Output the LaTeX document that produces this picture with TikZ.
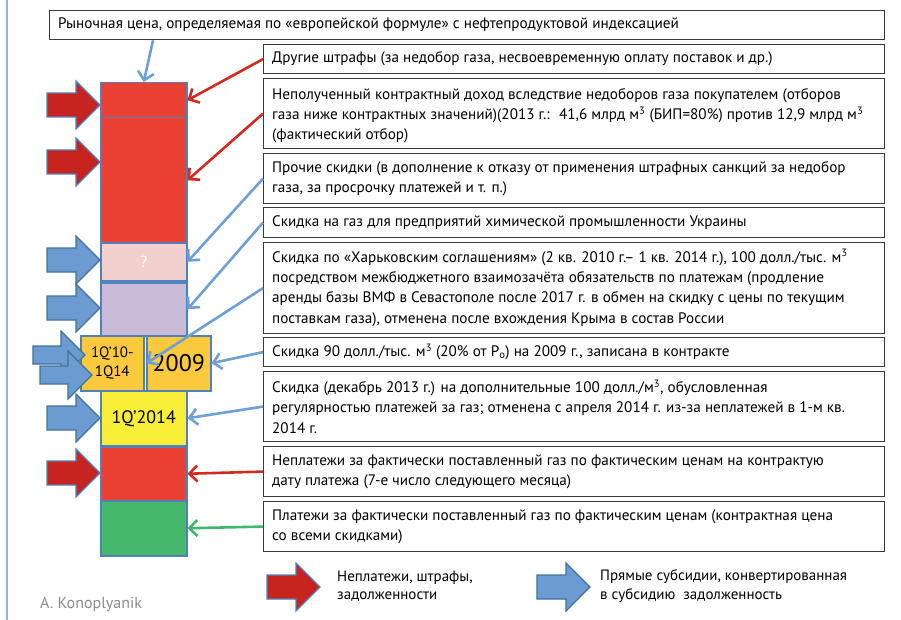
\documentclass[tikz,border=0pt]{standalone}
\usepackage{fontspec}
\setmainfont{PT Sans}
\usetikzlibrary{arrows.meta}
\definecolor{cellred}{HTML}{E94235}
\definecolor{arrred}{HTML}{C8241F}
\definecolor{cellpink}{HTML}{F2D0CE}
\definecolor{celllav}{HTML}{C9BAD7}
\definecolor{cellorange}{HTML}{FBC93D}
\definecolor{cellyellow}{HTML}{F8ED37}
\definecolor{cellgreen}{HTML}{45B86C}
\definecolor{arrblue}{HTML}{6C9BD2}
\definecolor{arredge}{HTML}{41719C}
\definecolor{celledge}{HTML}{4F81BD}
\definecolor{connblue}{HTML}{6E9FD5}
\definecolor{connred}{HTML}{D22A20}
\definecolor{conngreen}{HTML}{40B86A}
\definecolor{boxedge}{HTML}{3A3A3A}
\definecolor{framecol}{HTML}{8DB3E2}
\definecolor{authgray}{HTML}{8C8C8C}
\begin{document}
\begin{tikzpicture}[x=1pt,y=-1pt,
  txtbox/.style={draw=boxedge, line width=1.2pt, anchor=north west, inner sep=0pt, minimum width=621pt},
  boxtext/.style={anchor=west, align=left, inner sep=0pt, font=\fontsize{15.2}{20.4}\selectfont},
  cell/.style={draw=celledge, line width=1.5pt, anchor=north west, inner sep=0pt, minimum width=86pt},
  conn/.style={line width=2.6pt, -{Straight Barb[length=8pt,width=16pt]}},
  blockarr/.pic={\draw[pic actions] (0,0) -- (-24,-24) -- (-24,-12) -- (-53,-12) -- (-53,12) -- (-24,12) -- (-24,24) -- cycle;},
  thinarr/.pic={\draw[pic actions] (0,0) -- (-24,-24) -- (-24,-9) -- (-52,-9) -- (-52,9) -- (-24,9) -- (-24,24) -- cycle;},
  redblk/.style={fill=arrred, draw=celledge, line width=1.2pt},
  blueblk/.style={fill=arrblue, draw=arredge, line width=1.2pt}]
\useasboundingbox (0,0) rectangle (901,620);
\fill[white] (0,0) rectangle (901,620);
\draw[framecol, line width=1.3pt] (7,0) -- (7,620);

% text boxes
\node[txtbox, minimum width=835pt, minimum height=29pt] (b1) at (49,10) {};
\node[boxtext] (t1) at ([xshift=9pt]b1.west) {Рыночная цена, определяемая по «европейской формуле» с нефтепродуктовой индексацией};
\node[txtbox, minimum height=29pt] (b2) at (263,44) {};
\node[boxtext] (t2) at ([xshift=9pt]b2.west) {Другие штрафы (за недобор газа, несвоевременную оплату поставок и др.)};
\node[txtbox, minimum height=70pt] (b3) at (263,78) {};
\node[boxtext] (t3) at ([xshift=9pt,yshift=-2pt]b3.west) {Неполученный контрактный доход вследствие недоборов газа покупателем (отборов\\газа ниже контрактных значений)(2013 г.:~ 41,6 млрд м\textsuperscript{3} (БИП=80\%) против 12,9 млрд м\textsuperscript{3}\\(фактический отбор)};
\node[txtbox, minimum height=50pt] (b4) at (263,153) {};
\node[boxtext] (t4) at ([xshift=9pt]b4.west) {Прочие скидки (в дополнение к отказу от применения штрафных санкций за недобор\\газа, за просрочку платежей и т. п.)};
\node[txtbox, minimum height=30pt] (b5) at (263,207) {};
\node[boxtext] (t5) at ([xshift=9pt]b5.west) {Скидка на газ для предприятий химической промышленности Украины};
\node[txtbox, minimum height=91pt] (b6) at (263,242) {};
\node[boxtext] (t6) at ([xshift=9pt]b6.west) {Скидка по «Харьковским соглашениям» (2 кв. 2010 г.– 1 кв. 2014 г.), 100 долл./тыс. м\textsuperscript{3}\\посредством межбюджетного взаимозачёта обязательств по платежам (продление\\аренды базы ВМФ в Севастополе после 2017 г. в обмен на скидку с цены по текущим\\поставкам газа), отменена после вхождения Крыма в состав России};
\node[txtbox, minimum height=29pt] (b7) at (263,337) {};
\node[boxtext] (t7) at ([xshift=9pt]b7.west) {Скидка 90 долл./тыс. м\textsuperscript{3} (20\% от P\textsubscript{o}) на 2009 г., записана в контракте};
\node[txtbox, minimum height=70pt] (b8) at (263,371) {};
\node[boxtext] (t8) at ([xshift=9pt]b8.west) {Скидка (декабрь 2013 г.) на дополнительные 100 долл./м\textsuperscript{3}, обусловленная\\регулярностью платежей за газ; отменена с апреля 2014 г. из-за неплатежей в 1-м кв.\\2014 г.};
\node[txtbox, minimum height=50pt] (b9) at (263,446) {};
\node[boxtext] (t9) at ([xshift=9pt]b9.west) {Неплатежи за фактически поставленный газ по фактическим ценам на контрактую\\дату платежа (7-е число следующего месяца)};
\node[txtbox, minimum height=50pt] (b10) at (263,501) {};
\node[boxtext] (t10) at ([xshift=9pt]b10.west) {Платежи за фактически поставленный газ по фактическим ценам (контрактная цена\\со всеми скидками)};

% column cells
\node[cell, fill=cellred, minimum height=35pt] (c1) at (100,82) {};
\node[cell, fill=cellred, minimum height=125pt] (c2) at (100,117) {};
\node[cell, fill=cellpink, minimum height=38pt, text=white, font=\fontsize{16}{16}\selectfont] (c3) at (100,242) {?};
\node[cell, fill=celllav, minimum height=53pt] (c4) at (100,282) {};
\node[cell, fill=cellorange, minimum width=63pt, minimum height=55pt, align=center, font=\fontsize{15}{18.5}\selectfont] (c5l) at (80,335) {1Q’10-\\1Q14};
\node[cell, fill=cellorange, minimum width=64pt, minimum height=55pt, font=\fontsize{24}{24}\selectfont] (c5r) at (146,335) {2009};
\node[cell, fill=cellyellow, minimum height=55pt, font=\fontsize{18}{18}\selectfont] (c6) at (100,390) {1Q’2014};
\node[cell, fill=cellred, minimum height=54pt] (c7) at (100,446) {};
\node[cell, fill=cellgreen, minimum height=55pt] (c8) at (100,500) {};

% left block arrows
\pic[redblk] at (100,105) {blockarr};
\pic[redblk] at (100,162) {blockarr};
\pic[blueblk] at (100,260) {blockarr};
\pic[blueblk] at (100,308) {blockarr};
\pic[blueblk] at (85,355) {thinarr};
\pic[blueblk] at (92,375) {thinarr};
\pic[blueblk] at (100,418) {blockarr};
\pic[redblk] at (100,473) {blockarr};

% connectors
\draw[conn, connblue] ([xshift=104pt]b1.south west) -- (c1.north);
\draw[conn, connred] (b2.west) -- (c1.east);
\draw[conn, connred] (b3.west) -- (c2.east);
\draw[conn, connblue] (b4.west) -- (c3.east);
\draw[conn, connblue] (b5.west) -- (c4.east);
\draw[conn, connblue] (b6.west) -- ([xshift=2pt]c5l.east);
\draw[conn, connblue] (b7.west) -- (c5r.east);
\draw[conn, connblue] (b8.west) -- (c6.east);
\draw[conn, connred] (b9.west) -- (c7.east);
\draw[conn, conngreen] (b10.west) -- (c8.east);

% legend
\pic[redblk] at (320,587) {blockarr};
\node[anchor=west, align=left, inner sep=0pt, font=\fontsize{15}{18.5}\selectfont] (lg1) at (337,586) {Неплатежи, штрафы,\\задолженности};
\pic[blueblk] at (590,587) {blockarr};
\node[anchor=west, align=left, inner sep=0pt, font=\fontsize{15}{18.5}\selectfont] (lg2) at (600,586) {Прямые субсидии, конвертированная\\в субсидию~ задолженность};
\node[anchor=west, inner sep=0pt, text=authgray, font=\fontsize{16}{16}\selectfont] (auth) at (40,604) {A. Konoplyanik};
\end{tikzpicture}
\end{document}
